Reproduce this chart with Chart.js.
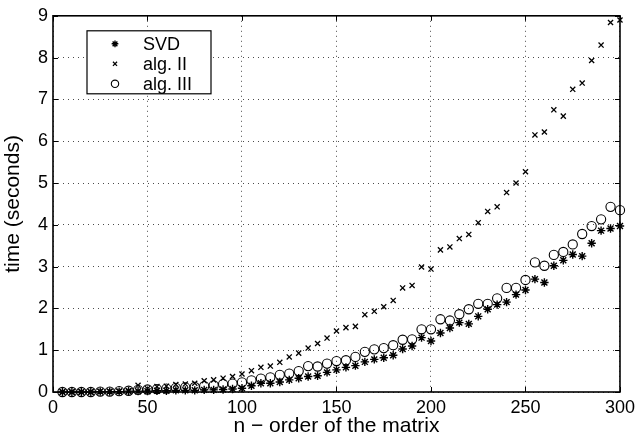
<!DOCTYPE html>
<html>
<head>
<meta charset="utf-8">
<script src="https://cdn.jsdelivr.net/npm/chart.js@4/dist/chart.umd.min.js"></script>
<style>
  html, body { margin: 0; padding: 0; background: #fff; }
  #wrap { width: 640px; height: 436px; }
</style>
</head>
<body>
<div id="wrap"><canvas id="timingChart" width="640" height="436"></canvas></div>
<script>
// matrix orders n = 5, 10, ..., 300
const orders = [
    5, 10, 15, 20, 25, 30, 35, 40, 45, 50,
    55, 60, 65, 70, 75, 80, 85, 90, 95, 100,
    105, 110, 115, 120, 125, 130, 135, 140, 145, 150,
    155, 160, 165, 170, 175, 180, 185, 190, 195, 200,
    205, 210, 215, 220, 225, 230, 235, 240, 245, 250,
    255, 260, 265, 270, 275, 280, 285, 290, 295, 300
];

// run times in seconds
const svdTimes = [
    0.00, 0.00, 0.00, 0.00, 0.01, 0.01, 0.01, 0.02, 0.02, 0.02,
    0.03, 0.03, 0.04, 0.04, 0.04, 0.05, 0.05, 0.06, 0.07, 0.09,
    0.15, 0.21, 0.21, 0.24, 0.29, 0.33, 0.37, 0.39, 0.47, 0.53,
    0.59, 0.63, 0.72, 0.78, 0.82, 0.88, 1.03, 1.10, 1.30, 1.22,
    1.41, 1.53, 1.66, 1.63, 1.81, 1.98, 2.09, 2.15, 2.33, 2.44,
    2.70, 2.62, 3.02, 3.15, 3.29, 3.25, 3.56, 3.86, 3.91, 3.97
];
const algIITimes = [
    0.00, 0.00, 0.00, 0.00, 0.01, 0.01, 0.02, 0.03, 0.16, 0.08,
    0.13, 0.14, 0.18, 0.19, 0.21, 0.27, 0.29, 0.33, 0.37, 0.43,
    0.51, 0.59, 0.62, 0.71, 0.84, 0.93, 1.05, 1.16, 1.29, 1.46,
    1.54, 1.57, 1.85, 1.93, 2.04, 2.19, 2.49, 2.55, 2.99, 2.94,
    3.40, 3.47, 3.67, 3.77, 4.05, 4.32, 4.43, 4.77, 5.00, 5.27,
    6.15, 6.22, 6.75, 6.60, 7.24, 7.39, 7.93, 8.30, 8.84, 8.90
];
const algIIITimes = [
    0.00, 0.00, 0.00, 0.00, 0.01, 0.01, 0.02, 0.03, 0.05, 0.06,
    0.07, 0.08, 0.10, 0.11, 0.12, 0.14, 0.16, 0.19, 0.20, 0.23,
    0.28, 0.32, 0.35, 0.41, 0.44, 0.50, 0.62, 0.61, 0.68, 0.74,
    0.76, 0.84, 0.96, 1.02, 1.05, 1.12, 1.25, 1.26, 1.50, 1.50,
    1.74, 1.71, 1.86, 1.98, 2.11, 2.11, 2.24, 2.49, 2.49, 2.68,
    3.10, 3.02, 3.28, 3.35, 3.53, 3.78, 3.97, 4.13, 4.43, 4.35
];

const seriesLabels = ['SVD', 'alg. II', 'alg. III'];
const xTicks = [0, 50, 100, 150, 200, 250, 300];
const yTicks = [0, 1, 2, 3, 4, 5, 6, 7, 8, 9];

const FONT = '"Liberation Sans", Arial, Helvetica, sans-serif';

function toPoints(values) {
    return orders.map((n, i) => ({ x: n, y: values[i] }));
}

// frame round the plot with short inward ticks
const frameTicks = {
    id: 'frameTicks',
    afterDraw(chart) {
        const { ctx, chartArea: a, scales } = chart;
        ctx.save();
        ctx.strokeStyle = '#000';
        ctx.lineWidth = 1;
        xTicks.forEach(v => {
            const px = Math.round(scales.x.getPixelForValue(v)) + 0.5;
            ctx.beginPath();
            ctx.moveTo(px, a.bottom); ctx.lineTo(px, a.bottom - 5);
            ctx.moveTo(px, a.top); ctx.lineTo(px, a.top + 5);
            ctx.stroke();
        });
        yTicks.forEach(v => {
            const py = Math.round(scales.y.getPixelForValue(v)) + 0.5;
            ctx.beginPath();
            ctx.moveTo(a.left, py); ctx.lineTo(a.left + 5, py);
            ctx.moveTo(a.right, py); ctx.lineTo(a.right - 5, py);
            ctx.stroke();
        });
        ctx.lineWidth = 1.6;
        ctx.strokeRect(a.left, a.top, a.right - a.left, a.bottom - a.top);
        ctx.restore();
    }
};

// legend in a white box in the upper left of the plot
const boxedLegend = {
    id: 'boxedLegend',
    afterDraw(chart) {
        const { ctx, chartArea: a } = chart;
        const bx = a.left + 34, by = a.top + 15, bw = 124, bh = 63;
        ctx.save();
        ctx.fillStyle = '#fff';
        ctx.fillRect(bx, by, bw, bh);
        ctx.strokeStyle = '#000';
        ctx.lineWidth = 1.2;
        ctx.strokeRect(bx, by, bw, bh);
        ctx.textBaseline = 'middle';
        chart.data.datasets.forEach((ds, i) => {
            const cy = by + 13 + i * 20;
            ctx.fillStyle = 'rgba(0,0,0,0)';
            ctx.strokeStyle = '#000';
            ctx.lineWidth = ds.borderWidth;
            Chart.helpers.drawPoint(ctx, {
                pointStyle: ds.pointStyle,
                radius: ds.pointRadius * 0.8,
                borderWidth: ds.borderWidth
            }, bx + 28, cy);
            ctx.fillStyle = '#000';
            ctx.font = '18px ' + FONT;
            ctx.fillText(ds.label, bx + 56, cy + 1);
        });
        ctx.restore();
    }
};

const commonSet = {
    showLine: false,
    borderColor: '#000',
    backgroundColor: 'rgba(0,0,0,0)',
    pointHoverRadius: 4,
    clip: false
};

new Chart(document.getElementById('timingChart'), {
    type: 'scatter',
    data: {
        datasets: [
            Object.assign({}, commonSet, {
                label: seriesLabels[0], data: toPoints(svdTimes),
                pointStyle: 'star', pointRadius: 4.2, borderWidth: 1.4
            }),
            Object.assign({}, commonSet, {
                label: seriesLabels[1], data: toPoints(algIITimes),
                pointStyle: 'crossRot', pointRadius: 3.6, borderWidth: 1.3
            }),
            Object.assign({}, commonSet, {
                label: seriesLabels[2], data: toPoints(algIIITimes),
                pointStyle: 'circle', pointRadius: 4.6, borderWidth: 1.1
            })
        ]
    },
    options: {
        responsive: false,
        animation: false,
        layout: { padding: { left: 0, top: 13, right: 19, bottom: 0 } },
        plugins: {
            legend: { display: false },
            tooltip: { enabled: false }
        },
        scales: {
            x: {
                type: 'linear',
                min: 0, max: 300,
                afterBuildTicks: s => { s.ticks = xTicks.map(v => ({ value: v })); },
                afterFit: s => { s.height = 44; },
                ticks: { color: '#000', font: { family: FONT, size: 18 }, padding: 5, maxRotation: 0 },
                grid: {
                    color: 'rgba(0,0,0,0.7)', lineWidth: 1,
                    drawTicks: false
                },
                border: { display: false, dash: [1, 4] },
                title: {
                    display: true, text: 'n \u2212 order of the matrix',
                    color: '#000', font: { family: FONT, size: 21 }, padding: { top: 0, bottom: -3 }
                }
            },
            y: {
                type: 'linear',
                min: 0, max: 9,
                afterBuildTicks: s => { s.ticks = yTicks.map(v => ({ value: v })); },
                afterFit: s => { s.width = 53; },
                ticks: { color: '#000', font: { family: FONT, size: 18 }, padding: 5 },
                grid: {
                    color: 'rgba(0,0,0,0.7)', lineWidth: 1,
                    drawTicks: false
                },
                border: { display: false, dash: [1, 4] },
                title: {
                    display: true, text: 'time (seconds)',
                    color: '#000', font: { family: FONT, size: 21 }, padding: { top: 1, bottom: 0 }
                }
            }
        }
    },
    plugins: [frameTicks, boxedLegend]
});
</script>
</body>
</html>
